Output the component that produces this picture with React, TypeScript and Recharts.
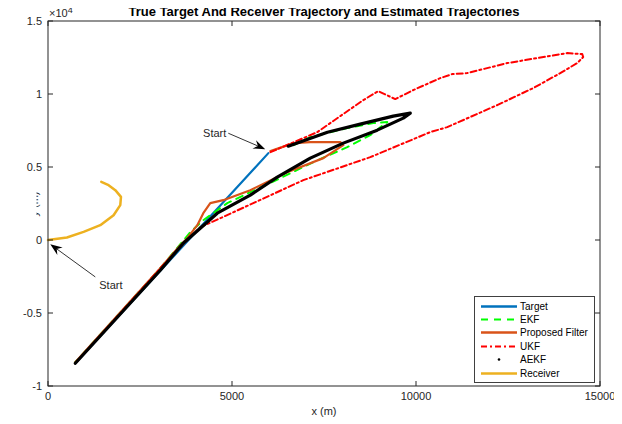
import React from 'react';
import { ComposedChart, Scatter, XAxis, YAxis, ReferenceLine } from 'recharts';

const xTicks = [0, 5000, 10000, 15000];
const yTicks = [-10000, -5000, 0, 5000, 10000, 15000];

const targetX = [5988, 742];
const targetY = [5950, -8444];

const ekfX = [6671, 7127, 8132, 8838, 9219, 9029, 8757, 8132, 7209, 6312, 5497, 4872, 4220, 3866, 3052, 742];
const ekfY = [6497, 7046, 7663, 8005, 8074, 7725, 7183, 6360, 5332, 4235, 3276, 2522, 1357, 535, -1933, -8375];

const propX = [6046, 6671, 7127, 7942, 8024, 7481, 6502, 5497, 4763, 4410, 4220, 4057, 3785, 3595, 3052, 742];
const propY = [6086, 6635, 6703, 6703, 6497, 5607, 4647, 3413, 2728, 2522, 1837, 1014, 123, -356, -1933, -8375];

const ukfX = [6046, 7317, 8567, 8974, 9436, 9925, 10658, 10985, 11393, 12479, 13294, 14109, 14517, 14544, 14381, 13919, 13185, 12207, 10849, 10387, 8757, 6937, 5578, 4681, 4138, 3323, 742];
const ukfY = [6017, 7388, 9581, 10198, 9650, 10266, 11089, 11363, 11432, 12117, 12460, 12803, 12734, 12529, 12117, 11432, 10404, 9239, 7731, 7389, 5675, 4099, 2522, 1494, 877, -1179, -8444];

const aekfX = [6529, 7594, 8485, 9382, 9844, 9654, 8947, 8024, 7127, 6230, 5497, 4600, 4138, 3676, 3052, 742];
const aekfY = [6429, 7384, 7937, 8485, 8691, 8348, 7525, 6635, 5607, 4304, 3071, 1837, 809, -219, -2070, -8444];

const receiverX = [0, 514, 967, 1421, 1782, 1964, 1983, 1829, 1647, 1448];
const receiverY = [0, 171, 555, 1014, 1700, 2385, 2954, 3413, 3756, 3982];

const toPoints = (xs: number[], ys: number[]) => xs.map((x, i) => ({ x, y: ys[i] }));

const series = [
  { name: 'Target', data: toPoints(targetX, targetY), color: '#0072BD', width: 2.2, dash: undefined },
  { name: 'EKF', data: toPoints(ekfX, ekfY), color: '#00FF00', width: 2, dash: '7 6' },
  { name: 'Proposed Filter', data: toPoints(propX, propY), color: '#D95319', width: 2.2, dash: undefined },
  { name: 'UKF', data: toPoints(ukfX, ukfY), color: '#FF0000', width: 2, dash: '6 3 2 3' },
  { name: 'AEKF', data: toPoints(aekfX, aekfY), color: '#000000', width: 3.2, dash: undefined },
  { name: 'Receiver', data: toPoints(receiverX, receiverY), color: '#EDB120', width: 2.5, dash: undefined },
];

const xMin = xTicks[0];
const xMax = xTicks[xTicks.length - 1];
const yMin = yTicks[0];
const yMax = yTicks[yTicks.length - 1];

const axisColor = '#262626';
const tickFont = { fontSize: 11, fill: axisColor };

// chart layout
const W = 614;
const H = 416;
const margin = { top: 13, right: 22, bottom: 0, left: 0 };
const yAxisW = 40;
const xAxisH = 38;
const plotL = margin.left + yAxisW;
const plotR = W - margin.right;
const plotT = margin.top;
const plotB = H - margin.bottom - xAxisH;

// MATLAB "box on" frame with inward ticks
function Frame() {
  const px = (v: number) => plotL + ((v - xMin) / (xMax - xMin)) * (plotR - plotL);
  const py = (v: number) => plotB - ((v - yMin) / (yMax - yMin)) * (plotB - plotT);
  let d = '';
  xTicks.forEach((v) => {
    const x = px(v);
    d += `M${x},${plotB} V${plotB - 5} M${x},${plotT} V${plotT + 5} `;
  });
  yTicks.forEach((v) => {
    const y = py(v);
    d += `M${plotL},${y} H${plotL + 5} M${plotR},${y} H${plotR - 5} `;
  });
  return (
    <g>
      <rect x={plotL} y={plotT} width={plotR - plotL} height={plotB - plotT} fill="none" stroke={axisColor} strokeWidth={1} />
      <path d={d} fill="none" stroke={axisColor} strokeWidth={1} />
    </g>
  );
}

const makeArrow = (dx: number, dy: number, anchor: 'start' | 'end') => (props: any) => {
  const { x1, y1, x2, y2 } = props;
  const ang = Math.atan2(y2 - y1, x2 - x1);
  const c = Math.cos(ang);
  const s = Math.sin(ang);
  const len = 12;
  const half = 4.5;
  const back = 8;
  const bx = x2 - len * c;
  const by = y2 - len * s;
  const ix = x2 - back * c;
  const iy = y2 - back * s;
  const head = `M${x2},${y2} L${bx - half * s},${by + half * c} L${ix},${iy} L${bx + half * s},${by - half * c} Z`;
  return (
    <g>
      <line x1={x1} y1={y1} x2={ix} y2={iy} stroke="#000" strokeWidth={0.8} />
      <path d={head} fill="#000" />
      <text x={x1 + dx} y={y1 + dy} textAnchor={anchor} fontSize={11} fill={axisColor}>
        Start
      </text>
    </g>
  );
};

function LegendBox() {
  return (
    <div
      style={{
        position: 'absolute',
        left: 466,
        top: 288,
        width: 119,
        height: 85,
        border: '1px solid #404040',
        background: '#fff',
        fontSize: 10,
      }}
    >
      {series.map((s, i) => (
        <div key={s.name} style={{ position: 'absolute', left: 0, top: 2.5 + i * 13.4, height: 13, width: 118 }}>
          <svg width={44} height={13} style={{ position: 'absolute', left: 0, top: 0 }}>
            {s.name === 'AEKF' ? (
              <circle cx={24} cy={6.5} r={1.3} fill="#000" />
            ) : (
              <line x1={6} x2={42} y1={6.5} y2={6.5} stroke={s.color} strokeWidth={s.name === 'EKF' || s.name === 'UKF' ? 2 : 2.6} strokeDasharray={s.dash} />
            )}
          </svg>
          <span style={{ position: 'absolute', left: 45, top: 0, lineHeight: '13px', color: '#000' }}>{s.name}</span>
        </div>
      ))}
    </div>
  );
}

export default function App() {
  return (
    <div style={{ position: 'relative', width: W, height: H, fontFamily: '"Liberation Sans", Arial, Helvetica, sans-serif' }}>
      <ComposedChart width={W} height={H} margin={margin}>
        <XAxis
          dataKey="x"
          type="number"
          domain={[xMin, xMax]}
          ticks={xTicks}
          height={xAxisH}
          axisLine={false}
          tickLine={false}
          tick={tickFont}
          tickSize={0}
          tickMargin={6}
        />
        <YAxis
          dataKey="y"
          type="number"
          domain={[yMin, yMax]}
          ticks={yTicks}
          width={yAxisW}
          axisLine={false}
          tickLine={false}
          tick={tickFont}
          tickSize={0}
          tickMargin={6}
          tickFormatter={(v: number) => String(v / 10000)}
        />
        {series.map((s) => (
          <Scatter
            key={s.name}
            name={s.name}
            data={s.data}
            dataKey="y"
            fill={s.color}
            shape={() => <g />}
            line={{ stroke: s.color, strokeWidth: s.width, strokeDasharray: s.dash, strokeLinejoin: 'round', strokeLinecap: 'round' }}
            isAnimationActive={false}
          />
        ))}
        <ReferenceLine
          segment={[{ x: 4899, y: 7313 }, { x: 5904, y: 6223 }]}
          shape={makeArrow(-2, 4, 'end')}
          ifOverflow="visible"
        />
        <ReferenceLine
          segment={[{ x: 1285, y: -2529 }, { x: 62, y: -288 }]}
          shape={makeArrow(4, 12, 'start')}
          ifOverflow="visible"
        />
      </ComposedChart>
      <div
        style={{
          position: 'absolute',
          left: 16,
          width: 600,
          top: -3,
          lineHeight: '14px',
          textAlign: 'center',
          fontSize: 13,
          fontWeight: 'bold',
          color: '#000',
        }}
      >
        True Target And Receiver Trajectory and Estimated Trajectories
      </div>
      <div style={{ position: 'absolute', left: 41, top: 0, fontSize: 11, lineHeight: '11px', color: axisColor }}>
        ×10<sup style={{ fontSize: 9, verticalAlign: 'top', position: 'relative', top: -3 }}>4</sup>
      </div>
      <div style={{ position: 'absolute', left: 266, width: 100, top: 396, lineHeight: '14px', textAlign: 'center', fontSize: 11, color: axisColor }}>
        x (m)
      </div>
      <svg width={W} height={H} style={{ position: 'absolute', left: 0, top: 0, pointerEvents: 'none' }}>
        <defs>
          <clipPath id="ylabClip">
            <rect x={28.5} y={150} width={6} height={100} />
          </clipPath>
        </defs>
        <Frame />
        <g clipPath="url(#ylabClip)">
          <text transform="translate(30,196) rotate(-90)" textAnchor="middle" fontSize={11} fill={axisColor}>
            y (m)
          </text>
        </g>
      </svg>
      <LegendBox />
    </div>
  );
}
